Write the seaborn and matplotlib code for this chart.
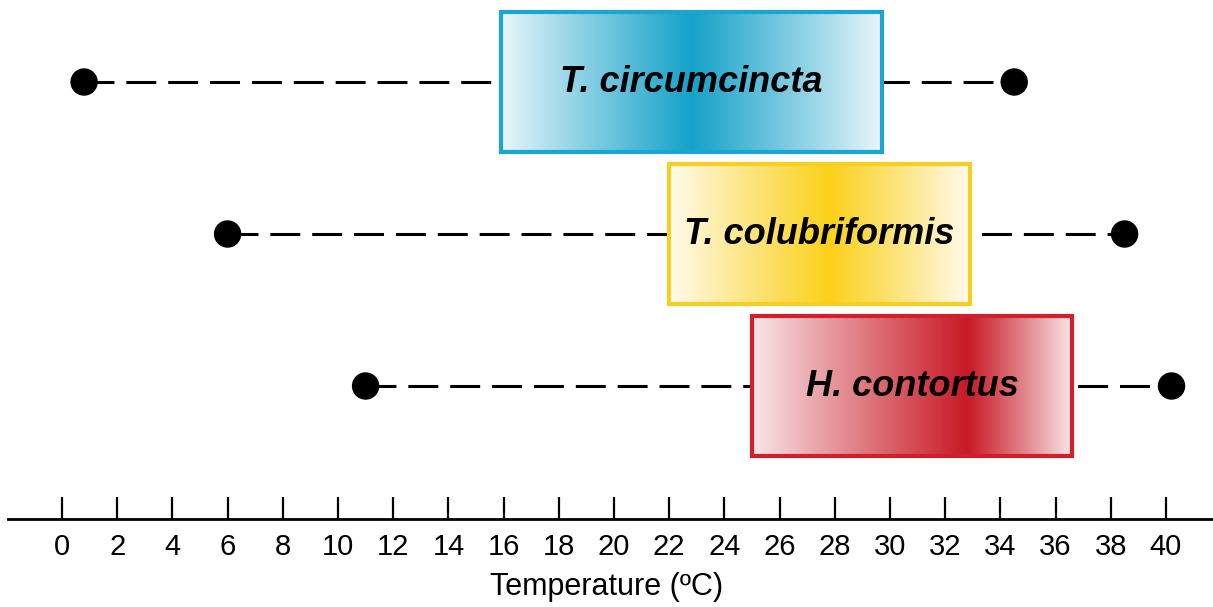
import numpy as np
import pandas as pd
import seaborn as sns
import matplotlib.pyplot as plt
from matplotlib.colors import LinearSegmentedColormap
from matplotlib.patches import Rectangle

# DATA (temperature, degrees C)
species = ["T. circumcincta", "T. colubriformis", "H. contortus"]
range_min = [0.8, 6.0, 11.0]
range_max = [34.5, 38.5, 40.2]
optimum_low = [15.9, 22.0, 25.0]
optimum_high = [29.7, 32.9, 36.6]
optimum_peak = [22.8, 27.8, 32.8]
tick_values = list(range(0, 41, 2))

# STYLE PER SPECIES
edge_colors = ["#19a6d3", "#f7cf24", "#d11f2b"]
peak_colors = ["#16a2c9", "#fbd11a", "#c81a26"]
light_colors = ["#eaf6fa", "#fffbee", "#f9e7e9"]

sns.set_style("white")
plt.rcParams["font.family"] = ["Liberation Sans", "DejaVu Sans"]

df = pd.DataFrame({
    "species": species,
    "row": np.arange(len(species)),
    "tmin": range_min,
    "tmax": range_max,
})
ends = pd.concat([
    df[["row", "tmin"]].rename(columns={"tmin": "temp"}),
    df[["row", "tmax"]].rename(columns={"tmax": "temp"}),
])

fig = plt.figure(figsize=(12.13, 6.07), dpi=100)
ax = fig.add_axes([0.0, 88 / 607, 1.0, 1 - 88 / 607])

px = 27.6  # pixels per degree
x0 = -62 / px
x1 = x0 + 1213 / px

# DASHED RANGE LINES
for r, a, b in zip(df["row"], df["tmin"], df["tmax"]):
    ax.plot([a, b], [r, r], color="black", lw=2.2, zorder=1,
            dashes=(9.8, 3.9), dash_capstyle="butt")

# END POINTS
sns.scatterplot(data=ends, x="temp", y="row", ax=ax, s=390, color="black",
                edgecolor="none", zorder=3, legend=False)

# OPTIMUM BOXES WITH GRADIENT
h = 0.46
for i, name in enumerate(species):
    lo, hi, pk = optimum_low[i], optimum_high[i], optimum_peak[i]
    xs = np.linspace(lo, hi, 400)
    vals = np.where(xs < pk, (xs - lo) / (pk - lo), (hi - xs) / (hi - pk))
    vals = np.clip(vals, 0, 1) ** 0.95
    cmap = LinearSegmentedColormap.from_list("g%d" % i, [light_colors[i], peak_colors[i]])
    ax.imshow(vals[np.newaxis, :], cmap=cmap, aspect="auto", vmin=0, vmax=1,
              extent=(lo, hi, i + h, i - h), zorder=2, interpolation="bilinear")
    ax.add_patch(Rectangle((lo, i - h), hi - lo, 2 * h, fill=False,
                           edgecolor=edge_colors[i], lw=3.0, zorder=4))
    ax.text((lo + hi) / 2, i, name, ha="center", va="center", fontsize=26,
            fontweight="bold", fontstyle="italic", color="black", zorder=5)

ax.set_xlim(x0, x1)
ax.set_ylim((519 - 82) / 152, -82 / 152)

# AXIS
for s in ["top", "left", "right"]:
    ax.spines[s].set_visible(False)
ax.spines["bottom"].set_linewidth(2.0)
ax.spines["bottom"].set_color("black")
ax.spines["bottom"].set_bounds(x0 + 8 / px, x1)
ax.set_yticks([])
ax.set_ylabel("")
ax.set_xticks(tick_values)
ax.set_xticklabels([str(t) for t in tick_values])
ax.tick_params(axis="x", bottom=True, direction="in", length=16, width=1.6,
               pad=10, labelsize=21, colors="black")
ax.set_xlabel("Temperature (ºC)", fontsize=22, labelpad=8, color="black")
ax.set_facecolor("white")

fig.savefig("out.png", dpi=100, facecolor="white")
